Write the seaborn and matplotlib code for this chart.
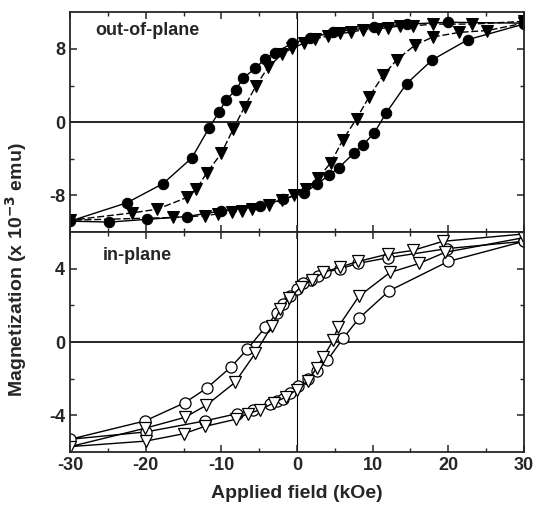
import numpy as np
import matplotlib
matplotlib.use("Agg")
import matplotlib.pyplot as plt
import matplotlib.ticker as mticker
import seaborn as sns

# out-of-plane, filled circles (loop: +30 -> -30 -> +30)
oop_circ_x = [30, 20, 14.5, 10.2, 4.8, 1.7, -0.6, -2.9, -4.2, -5.5, -7.1, -8.1, -9.4, -10.3, -11.6,
              -13.9, -17.7, -22.5, -30,
              -24.8, -19.8, -14.6, -10.1, -4.9, -1.8, 1.0, 2.6, 4.2, 5.5, 7.5, 8.7, 10.2, 11.8,
              14.5, 17.9, 22.6, 30]
oop_circ_y = [10.8, 10.9, 10.7, 10.4, 9.8, 9.2, 8.6, 7.6, 6.9, 5.9, 4.8, 3.5, 2.4, 1.1, -0.6,
              -3.9, -6.7, -8.8, -10.8,
              -10.9, -10.6, -10.3, -9.7, -9.2, -8.4, -7.7, -6.8, -5.8, -5.0, -3.4, -2.5, -1.2, 1.0,
              4.2, 6.8, 9.0, 10.7]

# out-of-plane, filled down-triangles
oop_tri_x = [30, 23.1, 18, 15.3, 13.6, 12, 10.7, 8.7, 7.2, 5.7, 4.1, 2.4, 0.9, -0.6, -2, -3.8,
             -5.4, -6.9, -8.4, -10, -11.9, -13.3, -14.5, -18.5, -21.8, -30,
             -16.4, -12.1, -10.4, -8.6, -7.3, -5.9, -3.7, -2, -0.4, 1.2, 2.8, 4.5, 6.1, 7.9,
             9.5, 11.4, 13.2, 15.6, 18, 21.5, 25.2, 30]
oop_tri_y = [11.0, 10.7, 10.7, 10.5, 10.5, 10.3, 10.2, 10.1, 9.8, 9.7, 9.4, 9.1, 8.6, 8.1, 7.4, 6.0,
             4.0, 1.7, -0.7, -3.4, -5.5, -7.3, -8.2, -9.5, -9.9, -10.7,
             -10.4, -10.2, -10.0, -9.8, -9.7, -9.5, -9.0, -8.5, -8.0, -7.3, -6.1, -4.4, -1.9, 0.4,
             2.7, 5.1, 6.8, 8.4, 9.3, 9.8, 10.0, 10.8]

# in-plane, open circles
ip_circ_x = [30, 19.8, 12, 8.1, 5.7, 3.7, 2.8, 1.8, 0.8, 0, -0.9, -1.8, -2.6, -4.2, -6.6, -8.7,
             -11.9, -14.8, -20.1, -30,
             -20, -12.2, -7.9, -5.8, -3.6, -2.7, -1.8, -0.9, 0.2, 1.5, 2.6, 4.0, 6.1, 8.2, 12.2,
             20, 30]
ip_circ_y = [5.5, 5.1, 4.6, 4.3, 4.0, 3.8, 3.6, 3.4, 3.2, 2.9, 2.5, 2.1, 1.6, 0.8, -0.4, -1.35,
             -2.5, -3.3, -4.3, -5.3,
             -4.9, -4.3, -3.9, -3.7, -3.4, -3.2, -3.1, -2.8, -2.4, -2.0, -1.6, -1.0, 0.2, 1.3, 2.8,
             4.4, 5.5]

# in-plane, open down-triangles
ip_tri_x = [30, 19.3, 15.3, 12, 8.1, 5.7, 3.5, 2.0, 0.5, -1.0, -2.2, -3.3, -5.5, -8.2, -12,
            -14.8, -20.1, -30,
            -20, -15, -12.2, -8, -6.5, -4.9, -3.0, -1.5, 0, 1.5, 2.6, 3.5, 4.8, 5.4, 8.2, 12.3,
            16.2, 19.6, 30]
ip_tri_y = [5.9, 5.5, 5.0, 4.8, 4.4, 4.1, 3.8, 3.4, 3.0, 2.4, 1.8, 0.9, -0.6, -2.2, -3.45,
            -4.1, -4.7, -5.7,
            -5.4, -5.0, -4.6, -4.2, -3.9, -3.7, -3.3, -3.0, -2.6, -2.1, -1.4, -0.8, 0.1, 0.8, 2.5,
            3.8, 4.3, 4.9, 5.7]

TICK_FS = 13
LABEL_FS = 14
NOTE_FS = 13

sns.set_style("ticks")
plt.rcParams["font.family"] = ["Liberation Sans", "DejaVu Sans"]
plt.rcParams["font.weight"] = "bold"
plt.rcParams["mathtext.default"] = "bf"

fig, (ax1, ax2) = plt.subplots(2, 1, sharex=True, figsize=(5.35, 5.08), dpi=100)
fig.subplots_adjust(left=0.131, right=0.979, top=0.976, bottom=0.110, hspace=0)

line_kw = dict(color="black", linewidth=1.0, sort=False, estimator=None, legend=False)

sns.lineplot(x=oop_circ_x, y=oop_circ_y, ax=ax1, marker="o", markersize=7.5,
             markerfacecolor="black", markeredgecolor="black", **line_kw)
sns.lineplot(x=oop_tri_x, y=oop_tri_y, ax=ax1, marker="v", markersize=8,
             markerfacecolor="black", markeredgecolor="black", **line_kw)
ax1.lines[-1].set_dashes((5, 2))

sns.lineplot(x=ip_circ_x, y=ip_circ_y, ax=ax2, marker="o", markersize=8,
             markerfacecolor="white", markeredgecolor="black", markeredgewidth=0.9, **line_kw)
sns.lineplot(x=ip_tri_x, y=ip_tri_y, ax=ax2, marker="v", markersize=8.5,
             markerfacecolor="white", markeredgecolor="black", markeredgewidth=0.9, **line_kw)

for ax in (ax1, ax2):
    ax.axhline(0, color="black", linewidth=1.2, zorder=0)
    ax.axvline(0, color="black", linewidth=0.8, zorder=0)
    for s in ax.spines.values():
        s.set_visible(True)
        s.set_linewidth(1.3)
    ax.tick_params(which="both", direction="in", top=True, right=True, labelsize=TICK_FS)
    ax.tick_params(which="major", length=5, width=1.1)
    ax.tick_params(which="minor", length=3, width=1.0)

ax1.set_ylim(-12, 12)
ax1.yaxis.set_major_locator(mticker.FixedLocator([-8, 0, 8]))
ax1.yaxis.set_minor_locator(mticker.FixedLocator([-4, 4]))
ax2.set_ylim(-6, 6)
ax2.yaxis.set_major_locator(mticker.FixedLocator([-4, 0, 4]))
ax2.yaxis.set_minor_locator(mticker.FixedLocator([-2, 2]))

ax2.set_xlim(-30, 30)
ax2.xaxis.set_major_locator(mticker.MultipleLocator(10))
ax2.xaxis.set_minor_locator(mticker.MultipleLocator(5))

for ax in (ax1, ax2):
    ax.set_yticklabels([f"{int(t)}" for t in ax.get_yticks()], fontweight="bold", fontsize=TICK_FS)
ax2.set_xticklabels([f"{int(t)}" for t in ax2.get_xticks()], fontweight="bold", fontsize=TICK_FS)

ax1.set_ylabel("")
ax2.set_ylabel("")
ax2.set_xlabel("Applied field (kOe)", fontsize=LABEL_FS, fontweight="bold", labelpad=8)

ax1.text(0.055, 0.918, "out-of-plane", transform=ax1.transAxes, fontsize=NOTE_FS,
         fontweight="bold", va="center", ha="left")
ax2.text(0.073, 0.895, "in-plane", transform=ax2.transAxes, fontsize=NOTE_FS,
         fontweight="bold", va="center", ha="left")

fig.text(0.030, 0.47, "Magnetization (x 10$^{-3}$ emu)", rotation=90, fontsize=LABEL_FS,
         fontweight="bold", va="center", ha="center")

plt.savefig("out.png", dpi=100)
